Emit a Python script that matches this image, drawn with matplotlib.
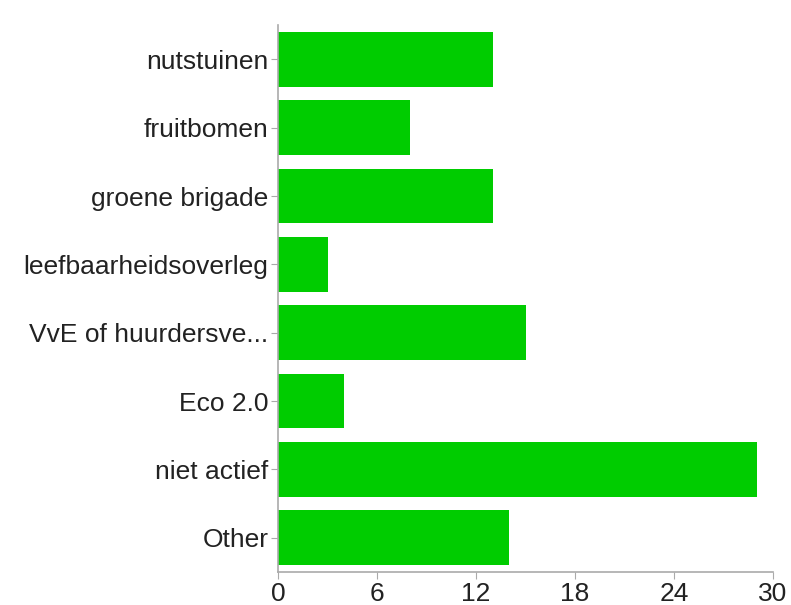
import matplotlib
matplotlib.use("Agg")
from matplotlib import pyplot as plt

categories = ["nutstuinen", "fruitbomen", "groene brigade", "leefbaarheidsoverleg",
              "VvE of huurdersve...", "Eco 2.0", "niet actief", "Other"]
counts = [13, 8, 13, 3, 15, 4, 29, 14]
x_ticks = [0, 6, 12, 18, 24, 30]

plt.rcParams['font.family'] = ['Liberation Sans', 'DejaVu Sans']

fig = plt.figure(figsize=(7.91, 6.05), dpi=100)
ax = fig.add_axes([0.3515, 0.0545, 0.6258, 0.904])

pos = list(range(len(categories)))
ax.barh(pos, counts, height=0.8, color="#00CC00", edgecolor="none")
ax.set_ylim(len(categories) - 0.5, -0.5)
ax.set_xlim(0, 30)
ax.set_yticks(pos)
ax.set_yticklabels(categories)
ax.set_xticks(x_ticks)

ax.spines['top'].set_visible(False)
ax.spines['right'].set_visible(False)
for s in ['left', 'bottom']:
    ax.spines[s].set_color("#aaaaaa")
    ax.spines[s].set_linewidth(1.2)

ax.tick_params(axis='y', length=5, color="#aaaaaa", labelsize=19, labelcolor="#222222", pad=2)
ax.tick_params(axis='x', length=5, color="#aaaaaa", labelsize=19, labelcolor="#222222", pad=2)

fig.savefig("out.png", dpi=100)
